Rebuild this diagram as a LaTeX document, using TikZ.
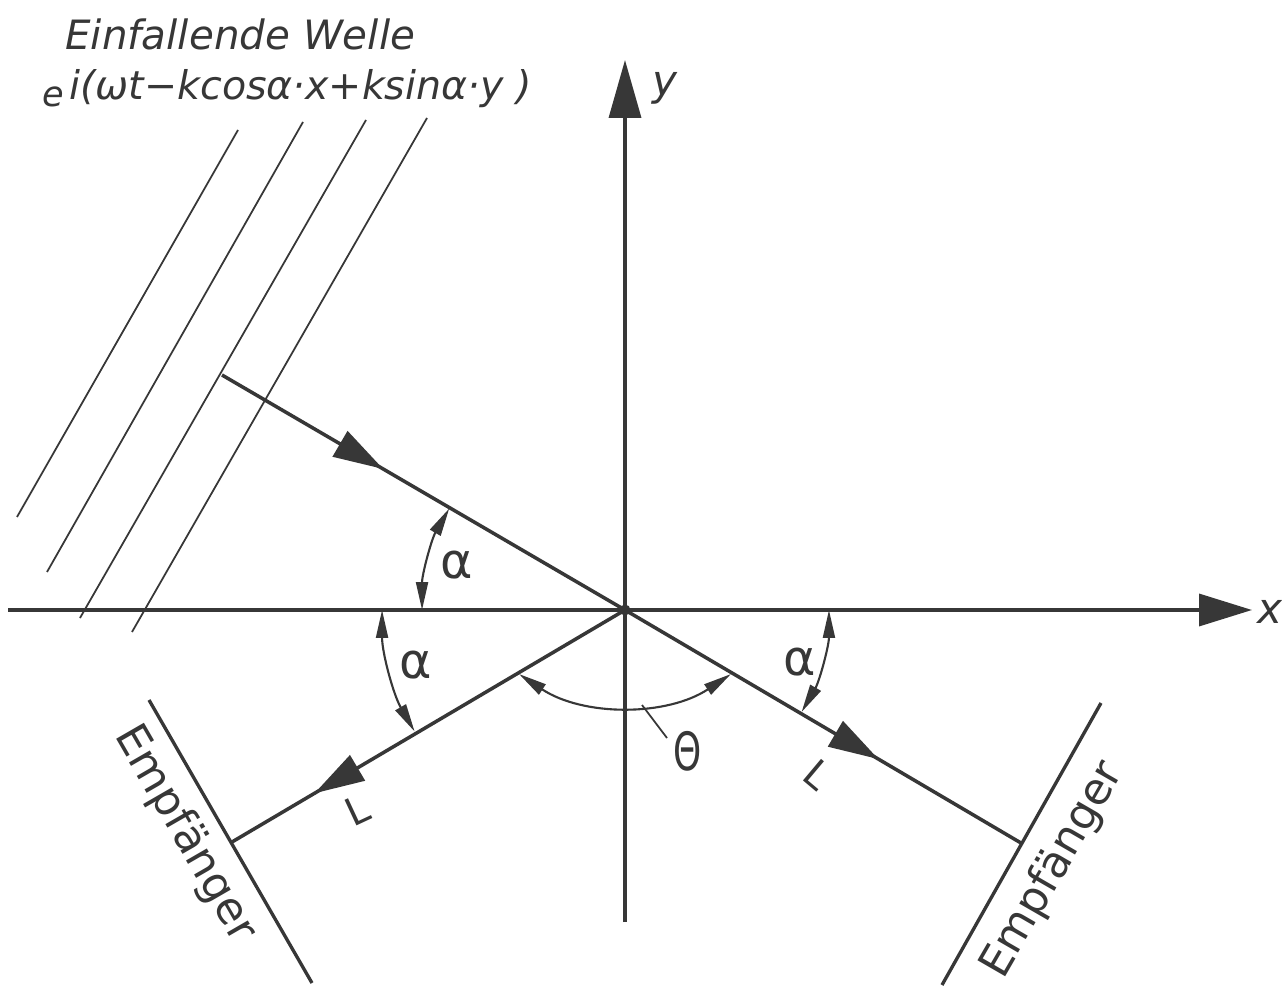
\documentclass[tikz,border=0pt]{standalone}
\usepackage{fontspec}
\setmainfont{DejaVu Sans}
\usetikzlibrary{arrows.meta,decorations.markings}
\definecolor{ink}{RGB}{55,55,55}
\begin{document}
\begin{tikzpicture}[x=0.02cm,y=0.02cm,
  axis/.style={draw=ink, line width=2pt},
  ray/.style={draw=ink, line width=2pt},
  wave/.style={draw=ink, line width=1pt},
  recv/.style={draw=ink, line width=1.9pt},
  thin leader/.style={draw=ink, line width=1pt},
  anglearc/.style={draw=ink, line width=1.2pt,
    {Triangle[length=0.56cm,width=0.24cm]}-{Triangle[length=0.56cm,width=0.24cm]}},
  lbl/.style={text=ink, inner sep=0pt},
  midarrow/.style={postaction={decorate}, decoration={markings,
    mark=at position #1 with {\arrow{Triangle[length=1.0cm,width=0.58cm]}}}}
]
\fill[white] (0,0) rectangle (1282,-986);
\useasboundingbox (0,0) rectangle (1282,-986);

% coordinates
\coordinate (O) at (625,-610);
\coordinate (xL) at (8,-610);
\coordinate (xR) at (1252,-610);
\coordinate (yB) at (625,-922);
\coordinate (yT) at (625,-60);
\coordinate (S) at (222,-375);
\coordinate (LLend) at (232,-842);
\coordinate (LRend) at (1021,-843);
\coordinate (R1a) at (149,-700);
\coordinate (R1b) at (312,-983);
\coordinate (R2a) at (1101,-703);
\coordinate (R2b) at (942,-985);
\coordinate (W1a) at (17,-517);  \coordinate (W1b) at (238,-130);
\coordinate (W2a) at (47,-572);  \coordinate (W2b) at (303,-122);
\coordinate (W3a) at (80,-618);  \coordinate (W3b) at (366,-120);
\coordinate (W4a) at (132,-632); \coordinate (W4b) at (427,-118);
\coordinate (ThC) at (625,-514);
\coordinate (leadA) at (642,-705);
\coordinate (leadB) at (667,-738);

% wave fronts
\draw[wave] (W1a) -- (W1b);
\draw[wave] (W2a) -- (W2b);
\draw[wave] (W3a) -- (W3b);
\draw[wave] (W4a) -- (W4b);

% axes
\draw[axis, -{Triangle[length=1.06cm,width=0.64cm]}] (xL) -- (xR);
\draw[axis, -{Triangle[length=1.16cm,width=0.64cm]}] (yB) -- (yT);

% rays
\draw[ray, midarrow=0.40] (S) -- (O);
\draw[ray, midarrow=0.79] (O) -- (LLend);
\draw[ray, midarrow=0.64] (O) -- (LRend);

% receivers
\draw[recv] (R1a) -- (R1b);
\draw[recv] (R2a) -- (R2b);

% origin dot
\node[circle, fill=ink, minimum size=0.22cm, inner sep=0pt] (Odot) at (O) {};

% angle arcs
\draw[anglearc] ([shift={(180:4.06cm)}]O) arc[start angle=180, end angle=150, radius=4.06cm];
\draw[anglearc] ([shift={(180:4.86cm)}]O) arc[start angle=180, end angle=210, radius=4.86cm];
\draw[anglearc] ([shift={(0:4.08cm)}]O) arc[start angle=0, end angle=-30, radius=4.08cm];
\draw[anglearc] ([shift={(236.5:3.84cm)}]ThC) arc[start angle=236.5, end angle=303.5, radius=3.84cm];
\draw[thin leader] (leadA) -- (leadB);

% labels
\node[lbl, font=\fontsize{24}{28}\selectfont\itshape] (xlab) at (1270,-612) {x};
\node[lbl, font=\fontsize{24}{28}\selectfont\itshape] (ylab) at (665,-88) {y};
\node[lbl, font=\fontsize{28}{32}\selectfont] (a1) at (457,-565) {α};
\node[lbl, font=\fontsize{28}{32}\selectfont] (a2) at (416,-665) {α};
\node[lbl, font=\fontsize{28}{32}\selectfont] (a3) at (800,-662) {α};
\node[lbl, font=\fontsize{30}{34}\selectfont, xscale=0.68] (th) at (688,-751) {Θ};
\node[lbl, font=\fontsize{22}{26}\selectfont, rotate=25] (L1) at (357,-810) {L};
\node[lbl, font=\fontsize{22}{26}\selectfont, rotate=-40] (L2) at (818,-775) {L};
\node[lbl, font=\fontsize{25}{29}\selectfont, rotate=-60] (E1) at (185,-834) {Empfänger};
\node[lbl, font=\fontsize{25}{29}\selectfont, rotate=60] (E2) at (1053,-870) {Empfänger};

\node[lbl, anchor=base west, font=\fontsize{23}{27}\selectfont\itshape] (title) at (65,-50) {Einfallende Welle};
\node[lbl, anchor=base west, font=\fontsize{20}{24}\selectfont\itshape] (ebase) at (42,-107) {e};
\node[lbl, anchor=base west, font=\fontsize{22.5}{27}\selectfont\itshape] (expo) at (69,-100) {i(ωt−kcosα·x+ksinα·y )};
\end{tikzpicture}
\end{document}
